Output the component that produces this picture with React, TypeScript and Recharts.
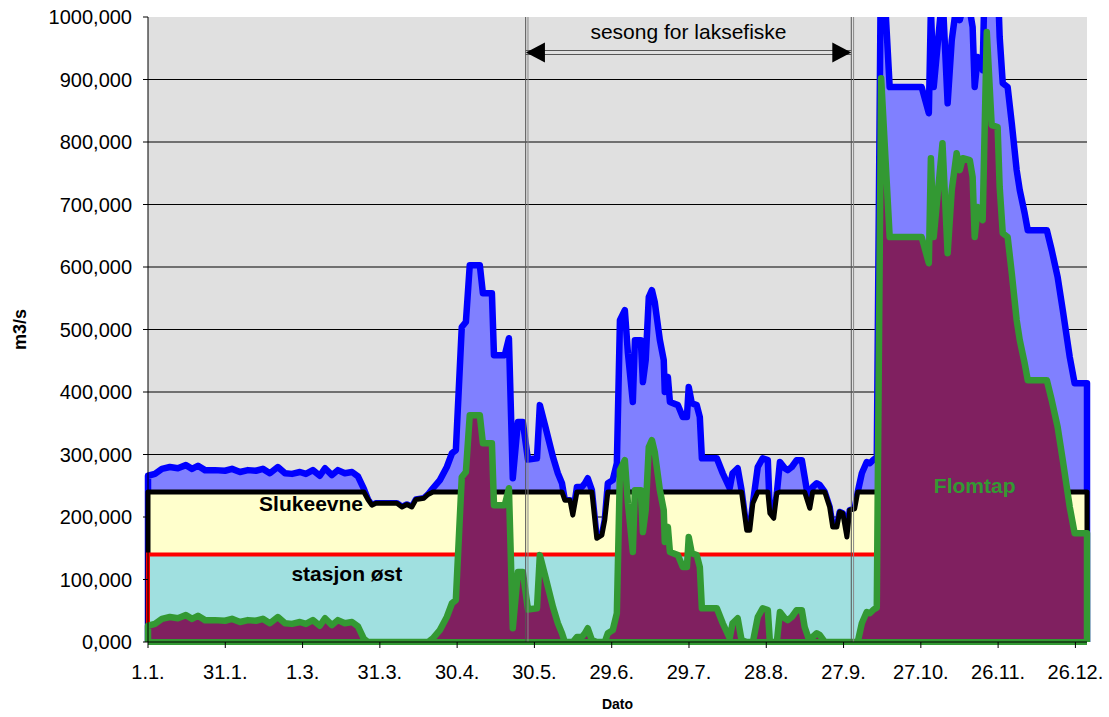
import React from 'react';
import {
  ComposedChart,
  Area,
  XAxis,
  YAxis,
  CartesianGrid,
  ReferenceLine,
  ReferenceDot,
} from 'recharts';

// Day of year (0 = 1 January) for each sample
const days = [
  0.0, 2.7, 5.4, 8.5, 11.6, 14.7, 17.1, 19.4, 22.1, 26.0, 29.9, 32.6, 35.7, 38.8, 41.9, 44.6,
  47.3, 50.4, 53.2, 55.9, 59.0, 61.3, 64.0, 66.7, 68.7, 71.4, 73.7, 76.4, 79.2, 81.5, 83.8,
  85.4, 86.9, 88.5, 96.6, 98.6, 100.5, 102.4, 104.0, 107.1, 108.7, 110.6, 113.3, 116.0,
  118.0, 119.5, 121.8, 123.4, 124.9, 128.8, 130.0, 133.5, 134.3, 138.5, 140.1, 141.6, 143.6,
  145.5, 147.5, 151.0, 152.1, 154.1, 157.2, 159.1, 160.7, 161.8, 163.8, 164.9, 166.5, 168.4,
  169.6, 170.7, 172.3, 174.2, 176.2, 177.3, 178.5, 180.4, 182.0, 183.2, 185.1, 186.3, 188.2,
  189.0, 191.3, 192.1, 193.2, 194.4, 195.6, 196.7, 198.7, 200.2, 200.6, 201.8, 202.6, 205.7,
  207.6, 209.2, 209.9, 211.1, 213.0, 214.2, 215.0, 220.8, 223.1, 225.8, 226.9, 228.9, 230.4,
  232.4, 233.6, 234.8, 236.7, 238.6, 240.6, 241.4, 242.9, 244.1, 245.3, 247.2, 248.3, 249.9,
  251.8, 253.8, 254.9, 256.9, 258.0, 259.6, 260.8, 262.7, 264.6, 265.8, 267.4, 268.5, 269.7,
  271.3, 272.4, 274.3, 275.5, 277.1, 279.0, 280.2, 281.7, 282.9, 284.6, 287.9, 300.3, 303.1,
  303.9, 305.0, 308.4, 310.4, 312.0, 313.9, 315.1, 316.3, 319.0, 320.1, 320.9, 322.1, 324.0,
  325.6, 327.5, 329.8, 330.6, 331.8, 333.7, 335.3, 337.2, 338.4, 340.3, 341.5, 348.9, 350.8,
  353.1, 355.1, 357.8, 359.7, 364.5,
];

// Total river flow (m3/s)
const flow = [
  266, 269, 277, 280, 278, 283, 277, 282, 275, 275, 274, 277, 272, 275, 274, 277,
  270, 280, 270, 269, 272, 269, 275, 266, 278, 267, 275, 270, 272, 265, 245,
  228, 219, 222, 222, 216, 220, 216, 228, 230, 236, 246, 259, 280,
  302, 307, 504, 512, 603, 603, 558, 558, 459, 459, 486, 262, 352,
  352, 292, 294, 379, 347, 296, 270, 254, 227, 227, 203, 248, 248,
  254, 262, 243, 166, 171, 195, 254, 259, 286, 515, 531, 462, 384,
  483, 483, 416, 451, 552, 563, 544, 483, 451, 400, 424, 384, 379,
  360, 360, 408, 382, 379, 360, 294, 294, 270, 246, 270, 278, 243,
  179, 179, 222, 280, 294, 291, 206, 198, 238, 288, 278, 275, 280,
  291, 291, 264, 214, 248, 254, 251, 240, 216, 184, 184, 208, 206,
  168, 211, 213, 240, 270, 288, 286, 292, 295, 1142, 888, 888, 846,
  1014, 888, 1038, 862, 963, 1022, 995, 1014, 1011, 984, 888, 936, 915,
  1216, 1067, 1064, 968, 894, 888, 830, 755, 723, 686, 659, 659, 627,
  584, 531, 456, 414, 414,
];

// Slukeevne: flow taken through the power stations (m3/s)
const capacity = [
  240, 240, 240, 240, 240, 240, 240, 240, 240, 240, 240, 240, 240, 240, 240, 240,
  240, 240, 240, 240, 240, 240, 240, 240, 240, 240, 240, 240, 240, 240, 240,
  228, 219, 222, 222, 216, 220, 216, 228, 230, 236, 240, 240, 240,
  240, 240, 240, 240, 240, 240, 240, 240, 240, 240, 240, 240, 240,
  240, 240, 240, 240, 240, 240, 240, 240, 227, 227, 203, 240, 240,
  240, 240, 240, 166, 171, 195, 240, 240, 240, 240, 240, 240, 240,
  240, 240, 240, 240, 240, 240, 240, 240, 240, 240, 240, 240, 240,
  240, 240, 240, 240, 240, 240, 240, 240, 240, 240, 240, 240, 240,
  179, 179, 222, 240, 240, 240, 206, 198, 238, 240, 240, 240, 240,
  240, 240, 240, 214, 240, 240, 240, 240, 216, 184, 184, 208, 206,
  168, 211, 213, 240, 240, 240, 240, 240, 240, 240, 240, 240, 240,
  240, 240, 240, 240, 240, 240, 240, 240, 240, 240, 240, 240, 240,
  240, 240, 240, 240, 240, 240, 240, 240, 240, 240, 240, 240, 240,
  240, 240, 240, 240, 240,
];

// Flomtap: flow passing the stations unused (m3/s)
const spill = [
  26, 29, 37, 40, 38, 43, 37, 42, 35, 35, 34, 37, 32, 35, 34, 37,
  30, 40, 30, 29, 32, 29, 35, 26, 38, 27, 35, 30, 32, 25, 5,
  0, 0, 0, 0, 0, 0, 0, 0, 0, 0, 6, 19, 40,
  62, 67, 264, 272, 363, 363, 318, 318, 219, 219, 246, 22, 112,
  112, 52, 54, 139, 107, 56, 30, 14, 0, 0, 0, 8, 8,
  14, 22, 3, 0, 0, 0, 14, 19, 46, 275, 291, 222, 144,
  243, 243, 176, 211, 312, 323, 304, 243, 211, 160, 184, 144, 139,
  120, 120, 168, 142, 139, 120, 54, 54, 30, 6, 30, 38, 3,
  0, 0, 0, 40, 54, 51, 0, 0, 0, 48, 38, 35, 40,
  51, 51, 24, 0, 8, 14, 11, 0, 0, 0, 0, 0, 0,
  0, 0, 0, 0, 30, 48, 46, 52, 55, 902, 648, 648, 606,
  774, 648, 798, 622, 723, 782, 755, 774, 771, 744, 648, 696, 675,
  976, 827, 824, 728, 654, 648, 590, 515, 483, 446, 419, 419, 387,
  344, 291, 216, 174, 174,
];

// Capacity of stasjon øst (m3/s)
const STASJON_OST = 140;

const xTicks = [0, 30, 60, 90, 120, 150, 180, 210, 240, 270, 300, 330, 360];
const xTickLabels = [
  '1.1.', '31.1.', '1.3.', '31.3.', '30.4.', '30.5.', '29.6.',
  '29.7.', '28.8.', '27.9.', '27.10.', '26.11.', '26.12.',
];
const yTicks = [0, 100, 200, 300, 400, 500, 600, 700, 800, 900, 1000];
const gridValues = [100, 200, 300, 400, 500, 600, 700, 800, 900];

// Salmon fishing season
const SEASON_START = 146.6;
const SEASON_END = 273.0;

const FONT = '"Liberation Sans", Arial, sans-serif';

const closing = (day: number) => ({ day, flow: 0, cap: 0, st: 0, spill: 0 });
const rows = days.map((day, i) => ({
  day,
  flow: flow[i],
  cap: capacity[i],
  st: STASJON_OST,
  spill: spill[i],
}));
// zero rows at both ends so every area gets its vertical border
const data = [closing(days[0]), ...rows, closing(days[days.length - 1])];

const textShape = (label: string, opts: { size: number; bold?: boolean; color: string }) =>
  (props: any) => (
    <text
      x={props.cx}
      y={props.cy}
      textAnchor="middle"
      dominantBaseline="central"
      fontFamily={FONT}
      fontSize={opts.size}
      fontWeight={opts.bold ? 'bold' : 'normal'}
      fill={opts.color}
    >
      {label}
    </text>
  );

const arrowHead = (dir: 1 | -1) => (props: any) => {
  const { cx, cy } = props;
  return (
    <polygon
      points={`${cx},${cy} ${cx + dir * 19},${cy - 10} ${cx + dir * 19},${cy + 10}`}
      fill="#000"
    />
  );
};

export default function App() {
  return (
    <div style={{ position: 'absolute', left: 0, top: 0, width: 1109, height: 717, background: '#fff' }}>
      <ComposedChart
        width={1109}
        height={717}
        data={data}
        margin={{ top: 17, right: 22, bottom: 0, left: 20 }}
        style={{ fontFamily: FONT }}
      >
        <CartesianGrid
          vertical={false}
          horizontalValues={gridValues}
          stroke="#000"
          strokeWidth={1}
          fill="#E0E0E0"
          fillOpacity={1}
        />
        <XAxis
          type="number"
          dataKey="day"
          domain={[0, 364.5]}
          ticks={xTicks}
          interval={0}
          tickFormatter={(v: number) => xTickLabels[xTicks.indexOf(v)]}
          tick={{ fill: '#000', fontSize: 20, fontFamily: FONT }}
          tickSize={6}
          tickMargin={17}
          height={75}
          axisLine={{ stroke: '#000', strokeWidth: 1 }}
          tickLine={{ stroke: '#000' }}
          label={{
            value: 'Dato',
            position: 'insideBottom',
            offset: 8,
            style: { fontSize: 14, fontWeight: 'bold', fill: '#000', fontFamily: FONT },
          }}
        />
        <YAxis
          type="number"
          domain={[0, 1000]}
          ticks={yTicks}
          allowDataOverflow
          width={128}
          tickFormatter={(v: number) => v.toFixed(3).replace('.', ',')}
          tick={{ fill: '#000', fontSize: 20, fontFamily: FONT }}
          tickSize={5}
          tickMargin={11}
          axisLine={{ stroke: '#000', strokeWidth: 1 }}
          tickLine={{ stroke: '#000' }}
          label={{
            value: 'm3/s',
            angle: -90,
            position: 'insideLeft',
            offset: 0,
            style: { fontSize: 18, fontWeight: 'bold', fill: '#000', fontFamily: FONT, textAnchor: 'middle' },
          }}
        />
        <Area
          type="linear"
          dataKey="flow"
          stroke="#0000FF"
          strokeWidth={6.5}
          strokeLinejoin="round"
          fill="#8080FF"
          fillOpacity={1}
          dot={false}
          activeDot={false}
          isAnimationActive={false}
        />
        <Area
          type="linear"
          dataKey="cap"
          stroke="#000000"
          strokeWidth={5}
          strokeLinejoin="round"
          fill="#FFFFCC"
          fillOpacity={1}
          dot={false}
          activeDot={false}
          isAnimationActive={false}
        />
        <Area
          type="linear"
          dataKey="st"
          stroke="#FF0000"
          strokeWidth={4}
          fill="#A0E0E0"
          fillOpacity={1}
          dot={false}
          activeDot={false}
          isAnimationActive={false}
        />
        <Area
          type="linear"
          dataKey="spill"
          stroke="#339933"
          strokeWidth={6.5}
          strokeLinejoin="round"
          fill="#802060"
          fillOpacity={1}
          dot={false}
          activeDot={false}
          isAnimationActive={false}
        />
        <ReferenceLine y={0} stroke="#339933" strokeWidth={6} />

        <ReferenceLine x={SEASON_START} stroke="#555" strokeWidth={1} />
        <ReferenceLine x={SEASON_START + 0.9} stroke="#888" strokeWidth={1} />
        <ReferenceLine x={SEASON_END} stroke="#555" strokeWidth={1} />
        <ReferenceLine x={SEASON_END + 0.9} stroke="#888" strokeWidth={1} />

        <ReferenceLine
          segment={[{ x: SEASON_START, y: 946.4 }, { x: SEASON_END, y: 946.4 }]}
          stroke="#555"
          strokeWidth={1}
        />
        <ReferenceLine
          segment={[{ x: SEASON_START, y: 940.0 }, { x: SEASON_END, y: 940.0 }]}
          stroke="#555"
          strokeWidth={1}
        />
        <ReferenceDot x={SEASON_START + 0.1} y={943.2} shape={arrowHead(1)} />
        <ReferenceDot x={SEASON_END} y={943.2} shape={arrowHead(-1)} />
        <ReferenceDot
          x={(SEASON_START + SEASON_END) / 2}
          y={977}
          shape={textShape('sesong for laksefiske', { size: 21, color: '#000' })}
        />

        <ReferenceDot x={63.3} y={221} shape={textShape('Slukeevne', { size: 21, bold: true, color: '#000' })} />
        <ReferenceDot x={77.2} y={110} shape={textShape('stasjon øst', { size: 21, bold: true, color: '#000' })} />
        <ReferenceDot x={320.9} y={251} shape={textShape('Flomtap', { size: 21, bold: true, color: '#339933' })} />
      </ComposedChart>
    </div>
  );
}
